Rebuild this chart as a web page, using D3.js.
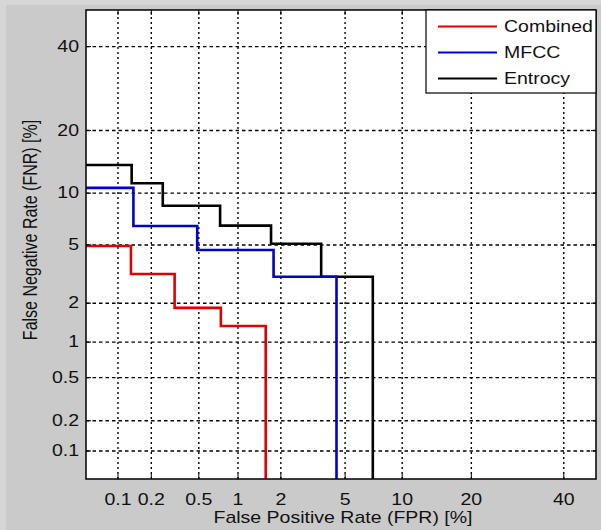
<!DOCTYPE html>
<html>
<head>
<meta charset="utf-8">
<script src="https://cdn.jsdelivr.net/npm/d3@7"></script>
<style>
  html, body { margin: 0; padding: 0; background: #cacaca; }
  svg { display: block; }
  text { font-family: "Liberation Sans", Arial, sans-serif; fill: #111; }
</style>
</head>
<body>
<svg id="chart" width="601" height="530"></svg>
<script>
// ---- data (percent) ----
const xTickValues = [0.1, 0.2, 0.5, 1, 2, 5, 10, 20, 40];
const xTickLabels = ["0.1", "0.2", "0.5", "1", "2", "5", "10", "20", "40"];
const yTickValues = [0.1, 0.2, 0.5, 1, 2, 5, 10, 20, 40];
const yTickLabels = ["0.1", "0.2", "0.5", "1", "2", "5", "10", "20", "40"];
const xLimits = [0.05, 48.2];
const yLimits = [0.05, 50];

const seriesNames = ["Combined", "MFCC", "Entrocy"];
const seriesColors = ["#e00000", "#0000c8", "#000000"];

// step curve vertices: [FPR %, FNR %]
const combinedFPR = [0.05, 0.133, 0.32, 0.75, 1.59];
const combinedFNR = [4.89, 3.20, 1.83, 1.33, 0.05];
const mfccFPR = [0.05, 0.14, 0.49, 1.80, 4.49];
const mfccFNR = [10.6, 6.48, 4.61, 3.06, 0.05];
const entrocyFPR = [0.05, 0.135, 0.254, 0.74, 1.73, 3.64, 7.14];
const entrocyFNR = [13.84, 11.2, 8.48, 6.52, 5.05, 3.06, 0.05];

const xLabel = "False Positive Rate (FPR) [%]";
const yLabel = "False Negative Rate (FNR) [%]";

// ---- probit ----
function probit(p) {
  const a = [-3.969683028665376e+01, 2.209460984245205e+02, -2.759285104469687e+02, 1.383577518672690e+02, -3.066479806614716e+01, 2.506628277459239e+00];
  const b = [-5.447609879822406e+01, 1.615858368580409e+02, -1.556989798598866e+02, 6.680131188771972e+01, -1.328068155288572e+01];
  const c = [-7.784894002430293e-03, -3.223964580411365e-01, -2.400758277161838e+00, -2.549732539343734e+00, 4.374664141464968e+00, 2.938163982698783e+00];
  const d = [7.784695709041462e-03, 3.224671290700398e-01, 2.445134137142996e+00, 3.754408661907416e+00];
  const pl = 0.02425, ph = 1 - pl;
  let q, r;
  if (p < pl) {
    q = Math.sqrt(-2 * Math.log(p));
    return (((((c[0]*q+c[1])*q+c[2])*q+c[3])*q+c[4])*q+c[5]) / ((((d[0]*q+d[1])*q+d[2])*q+d[3])*q+1);
  } else if (p <= ph) {
    q = p - 0.5; r = q*q;
    return (((((a[0]*r+a[1])*r+a[2])*r+a[3])*r+a[4])*r+a[5])*q / (((((b[0]*r+b[1])*r+b[2])*r+b[3])*r+b[4])*r+1);
  } else {
    q = Math.sqrt(-2 * Math.log(1 - p));
    return -(((((c[0]*q+c[1])*q+c[2])*q+c[3])*q+c[4])*q+c[5]) / ((((d[0]*q+d[1])*q+d[2])*q+d[3])*q+1);
  }
}
const pr = v => probit(v / 100);

// ---- layout ----
const L = 86, R = 596, T = 10, B = 479;
const SX = 1.22, FS = 16;

const svg = d3.select("#chart");
svg.append("rect").attr("x", 0).attr("y", 0).attr("width", 601).attr("height", 530).attr("fill", "#cacaca");
svg.append("rect").attr("x", 0).attr("y", 0).attr("width", 6).attr("height", 530).attr("fill", "#d6d6d6");
svg.append("rect").attr("x", 0).attr("y", 0).attr("width", 601).attr("height", 5).attr("fill", "#d6d6d6");

const x = d3.scaleLinear().domain([pr(xLimits[0]), pr(xLimits[1])]).range([L, R]);
const y = d3.scaleLinear().domain([pr(yLimits[0]), pr(yLimits[1])]).range([B, T]);

svg.append("rect").attr("x", L).attr("y", T).attr("width", R - L).attr("height", B - T).attr("fill", "#fff");

// grid
const gx = svg.append("g").attr("transform", `translate(0,${B})`)
  .call(d3.axisBottom(x).tickValues(xTickValues.map(pr)).tickSize(-(B - T)).tickFormat(""));
gx.select(".domain").remove();
gx.selectAll("line").attr("stroke", "#000").attr("stroke-width", 1.4).attr("stroke-dasharray", "2,3");

const gy = svg.append("g").attr("transform", `translate(${L},0)`)
  .call(d3.axisLeft(y).tickValues(yTickValues.map(pr)).tickSize(-(R - L)).tickFormat(""));
gy.select(".domain").remove();
gy.selectAll("line").attr("stroke", "#000").attr("stroke-width", 1.4).attr("stroke-dasharray", "3.5,3");

// curves
const line = d3.line().x(d => x(pr(d[0]))).y(d => y(pr(d[1]))).curve(d3.curveStepAfter);
const curves = [
  d3.zip(combinedFPR, combinedFNR),
  d3.zip(mfccFPR, mfccFNR),
  d3.zip(entrocyFPR, entrocyFNR)
];
svg.append("clipPath").attr("id", "pc").append("rect")
  .attr("x", L).attr("y", T).attr("width", R - L).attr("height", B - T);
const cg = svg.append("g").attr("clip-path", "url(#pc)");
[2, 1, 0].forEach(i => {
  cg.append("path").datum(curves[i]).attr("d", line)
    .attr("fill", "none").attr("stroke", seriesColors[i]).attr("stroke-width", 2.6)
    .attr("stroke-linejoin", "miter");
});

// axes with inside ticks
const ab = svg.append("g").attr("transform", `translate(0,${B})`)
  .call(d3.axisBottom(x).tickValues(xTickValues.map(pr)).tickSizeInner(-5).tickSizeOuter(0)
    .tickFormat((d, i) => xTickLabels[i]));
ab.select(".domain").remove();
ab.selectAll("line").attr("stroke", "#000");
ab.selectAll("text").attr("y", 15).attr("dy", "0.71em").attr("transform", `scale(${SX},1)`)
  .style("font-size", FS + "px").attr("fill", "#111");

const at = svg.append("g").attr("transform", `translate(0,${T})`)
  .call(d3.axisTop(x).tickValues(xTickValues.map(pr)).tickSizeInner(-5).tickSizeOuter(0).tickFormat(""));
at.select(".domain").remove();
at.selectAll("line").attr("stroke", "#000");

const al = svg.append("g").attr("transform", `translate(${L},0)`)
  .call(d3.axisLeft(y).tickValues(yTickValues.map(pr)).tickSizeInner(-5).tickSizeOuter(0)
    .tickFormat((d, i) => yTickLabels[i]));
al.select(".domain").remove();
al.selectAll("line").attr("stroke", "#000");
al.selectAll("text").attr("x", -7 / SX).attr("transform", `scale(${SX},1)`)
  .style("font-size", FS + "px").attr("fill", "#111");

const ar = svg.append("g").attr("transform", `translate(${R},0)`)
  .call(d3.axisRight(y).tickValues(yTickValues.map(pr)).tickSizeInner(-5).tickSizeOuter(0).tickFormat(""));
ar.select(".domain").remove();
ar.selectAll("line").attr("stroke", "#000");

// frame
svg.append("rect").attr("x", L).attr("y", T).attr("width", R - L).attr("height", B - T)
  .attr("fill", "none").attr("stroke", "#000").attr("stroke-width", 1.5);

// axis titles
svg.append("g").attr("transform", `translate(343,523) scale(${SX},1)`)
  .append("text").attr("text-anchor", "middle").style("font-size", FS + "px").text(xLabel);
svg.append("g").attr("transform", `translate(37,230) rotate(-90) scale(1,${SX})`)
  .append("text").attr("text-anchor", "middle").style("font-size", FS + "px").text(yLabel);

// legend
const lg = svg.append("g");
lg.append("rect").attr("x", 426).attr("y", T).attr("width", R - 426).attr("height", 83)
  .attr("fill", "#fff").attr("stroke", "#000").attr("stroke-width", 1.2);
const rowY = [26.5, 52.5, 78.5];
seriesNames.forEach((n, i) => {
  lg.append("line").attr("x1", 438).attr("x2", 497).attr("y1", rowY[i]).attr("y2", rowY[i])
    .attr("stroke", seriesColors[i]).attr("stroke-width", 2.2);
  lg.append("g").attr("transform", `translate(504,${rowY[i]}) scale(${SX},1)`)
    .append("text").attr("dy", "0.36em").style("font-size", FS + "px").text(n);
});
</script>
</body>
</html>
